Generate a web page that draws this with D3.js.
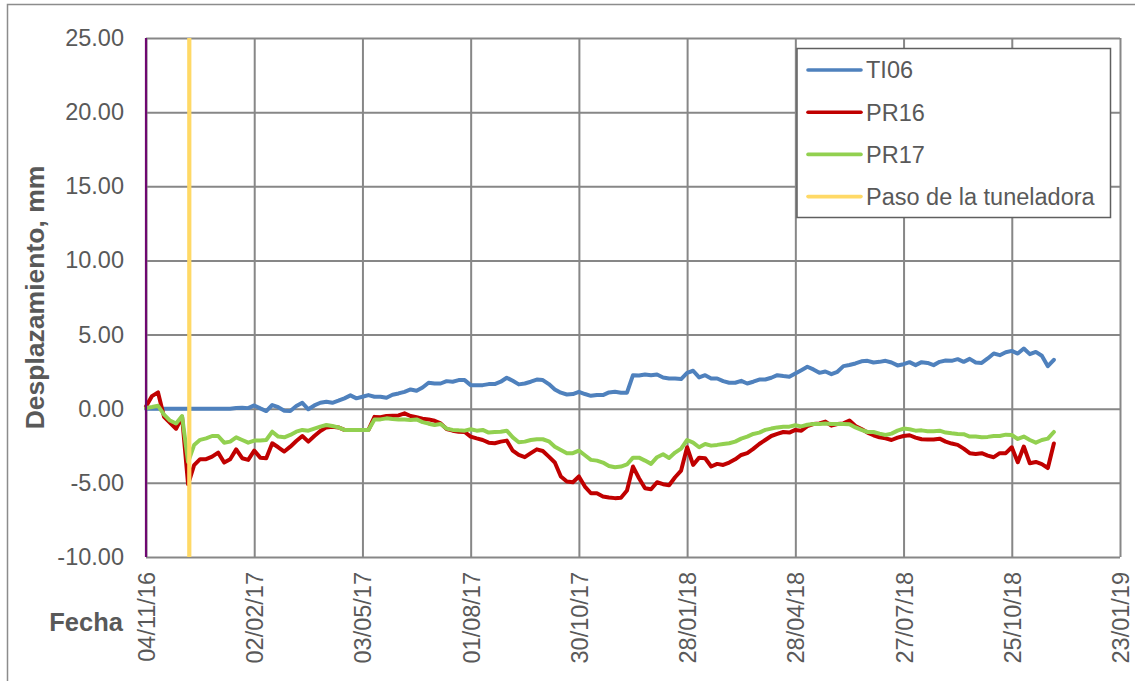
<!DOCTYPE html>
<html>
<head>
<meta charset="utf-8">
<script src="https://cdn.jsdelivr.net/npm/d3@7"></script>
<style>
  body { margin: 0; background: #fff; }
  svg { display: block; }
  text { font-family: "Liberation Sans", Arial, Helvetica, sans-serif; }
</style>
</head>
<body>
<svg id="chart" width="1135" height="681"></svg>
<script>
// Readings are logged every 5 days from the first survey date.
const firstReading = "04/11/16";
const readingStepDays = 5;

// Displacement readings, mm
const ti06 = [
  0,0,0,0,0,0,0,0,0,0,
  0,0,0,0,0,0.05,0.07,0.04,0.22,0.02,
  -0.16,0.25,0.10,-0.13,-0.16,0.18,0.40,-0.04,0.22,0.40,
  0.47,0.40,0.54,0.70,0.90,0.70,0.81,0.92,0.81,0.81,
  0.74,0.94,1.03,1.14,1.30,1.21,1.43,1.75,1.70,1.70,
  1.86,1.82,1.93,1.93,1.59,1.59,1.59,1.66,1.66,1.82,
  2.09,1.88,1.64,1.70,1.82,1.97,1.93,1.66,1.30,1.08,
  0.96,0.99,1.14,0.99,0.87,0.92,0.92,1.10,1.14,1.08,
  1.08,2.26,2.24,2.31,2.26,2.31,2.11,2.04,2.04,2.00,
  2.42,2.56,2.11,2.26,2.04,2.04,1.86,1.75,1.75,1.88,
  1.70,1.82,1.97,1.97,2.09,2.26,2.20,2.15,2.38,2.60,
  2.83,2.65,2.42,2.51,2.33,2.49,2.87,2.95,3.05,3.20,
  3.23,3.12,3.16,3.23,3.12,2.92,3.00,3.14,2.94,3.14,
  3.09,2.94,3.16,3.25,3.23,3.34,3.16,3.36,3.12,3.09,
  3.39,3.72,3.61,3.81,3.90,3.72,4.06,3.68,3.83,3.57,
  2.87,3.30
];
const pr16 = [
  0.15,0.85,1.10,-0.55,-0.95,-1.35,-0.55,-5.10,-3.80,-3.40,
  -3.40,-3.23,-2.96,-3.63,-3.41,-2.74,-3.34,-3.45,-2.83,-3.30,
  -3.34,-2.33,-2.60,-2.89,-2.56,-2.18,-1.84,-2.22,-1.84,-1.50,
  -1.26,-1.21,-1.26,-1.43,-1.43,-1.43,-1.43,-1.43,-0.55,-0.58,
  -0.49,-0.47,-0.45,-0.31,-0.49,-0.58,-0.67,-0.72,-0.81,-0.99,
  -1.37,-1.48,-1.55,-1.57,-1.88,-2.00,-2.11,-2.29,-2.33,-2.22,
  -2.15,-2.83,-3.12,-3.27,-3.00,-2.74,-2.85,-3.23,-3.63,-4.57,
  -4.91,-4.96,-4.57,-5.25,-5.70,-5.70,-5.92,-5.99,-6.03,-6.00,
  -5.52,-3.90,-4.69,-5.36,-5.43,-4.96,-5.09,-5.16,-4.62,-4.17,
  -2.60,-3.79,-3.30,-3.34,-3.90,-3.72,-3.79,-3.63,-3.41,-3.12,
  -3.00,-2.71,-2.38,-2.11,-1.84,-1.70,-1.57,-1.61,-1.43,-1.48,
  -1.17,-1.03,-0.99,-0.87,-1.14,-1.03,-0.99,-0.80,-1.17,-1.37,
  -1.61,-1.79,-1.93,-2.00,-2.11,-1.95,-1.84,-1.79,-1.95,-2.06,
  -2.08,-2.08,-2.02,-2.22,-2.35,-2.44,-2.69,-3.00,-3.05,-3.00,
  -3.16,-3.27,-3.00,-3.00,-2.60,-3.61,-2.55,-3.68,-3.59,-3.74,
  -4.00,-2.35
];
const pr17 = [
  0.05,0.12,0.20,-0.40,-0.80,-1.00,-0.50,-3.60,-2.45,-2.10,
  -2.00,-1.84,-1.84,-2.29,-2.22,-1.93,-2.11,-2.29,-2.15,-2.15,
  -2.11,-1.55,-1.88,-1.93,-1.77,-1.55,-1.43,-1.48,-1.34,-1.21,
  -1.10,-1.17,-1.26,-1.43,-1.43,-1.43,-1.43,-1.43,-0.72,-0.72,
  -0.65,-0.70,-0.72,-0.72,-0.76,-0.72,-0.90,-1.01,-1.10,-1.03,
  -1.34,-1.43,-1.46,-1.48,-1.39,-1.48,-1.43,-1.61,-1.57,-1.55,
  -1.48,-1.93,-2.26,-2.22,-2.11,-2.06,-2.06,-2.20,-2.56,-2.78,
  -3.00,-3.00,-2.83,-3.14,-3.45,-3.50,-3.63,-3.86,-3.95,-3.90,
  -3.76,-3.30,-3.30,-3.50,-3.72,-3.27,-3.07,-3.32,-2.96,-2.69,
  -2.11,-2.29,-2.60,-2.38,-2.49,-2.44,-2.38,-2.33,-2.22,-2.02,
  -1.88,-1.70,-1.61,-1.43,-1.34,-1.26,-1.21,-1.21,-1.12,-1.19,
  -1.08,-1.03,-1.03,-0.99,-1.03,-1.03,-1.03,-1.04,-1.26,-1.43,
  -1.57,-1.57,-1.68,-1.77,-1.68,-1.48,-1.34,-1.39,-1.48,-1.46,
  -1.52,-1.52,-1.48,-1.61,-1.66,-1.70,-1.72,-1.88,-1.88,-1.93,
  -1.90,-1.84,-1.84,-1.75,-1.77,-2.04,-1.88,-2.11,-2.29,-2.11,
  -2.02,-1.57
];

// Date the tunnel boring machine passed the section
const tbmPassageDate = "10/12/16";

const xTickLabels = ["04/11/16","02/02/17","03/05/17","01/08/17","30/10/17",
                     "28/01/18","28/04/18","27/07/18","25/10/18","23/01/19"];
const yTickValues = [-10, -5, 0, 5, 10, 15, 20, 25];
const seriesNames = ["TI06", "PR16", "PR17", "Paso de la tuneladora"];

// ---- styling ----
const colors = { TI06: "#4F81BD", PR16: "#C00000", PR17: "#92D050", tbm: "#FFD966" };
const gridColor = "#878787";
const textColor = "#595959";

const svg = d3.select("#chart");
const plot = { left: 146, right: 1120, top: 38, bottom: 557 };

const parseDate = d3.utcParse("%d/%m/%y");
const x = d3.scaleUtc()
  .domain([parseDate(xTickLabels[0]), parseDate(xTickLabels[xTickLabels.length - 1])])
  .range([plot.left, plot.right]);
const y = d3.scaleLinear().domain([-10, 25]).range([plot.bottom, plot.top]);

const start = parseDate(firstReading);
const readingDates = ti06.map((_, i) => d3.utcDay.offset(start, i * readingStepDays));

// two decimals, plain hyphen for negatives
const fmt2 = v => d3.format(".2f")(v).replace("\u2212", "-");

// outer chart frame
svg.append("path")
  .attr("d", "M7.5,690 V4.5 H1140")
  .attr("fill", "none").attr("stroke", "#8c8c8c").attr("stroke-width", 1.5);

// horizontal grid + y labels
const yAxis = d3.axisLeft(y)
  .tickValues(yTickValues)
  .tickFormat(fmt2)
  .tickSize(-(plot.right - plot.left))
  .tickPadding(22);
const gy = svg.append("g").attr("transform", `translate(${plot.left},0)`).call(yAxis);
gy.select(".domain").remove();
gy.selectAll("line").attr("stroke", gridColor).attr("stroke-width", 2);
gy.selectAll("text").attr("fill", textColor).style("font-size", "23.5px");

// vertical grid + rotated date labels
const xAxis = d3.axisBottom(x)
  .tickValues(xTickLabels.map(parseDate))
  .tickFormat(d3.utcFormat("%d/%m/%y"))
  .tickSize(-(plot.bottom - plot.top))
  .tickPadding(0);
const gx = svg.append("g").attr("transform", `translate(0,${plot.bottom})`).call(xAxis);
gx.select(".domain").remove();
gx.selectAll("line").attr("stroke", gridColor).attr("stroke-width", 2);
gx.selectAll("text")
  .attr("fill", textColor)
  .style("font-size", "23.5px")
  .attr("transform", "rotate(-90)")
  .attr("text-anchor", "end")
  .attr("x", -15)
  .attr("y", 0)
  .attr("dy", "0.36em");

// series lines
const line = d3.line()
  .x((d, i) => x(readingDates[i]))
  .y(d => y(d));

[["TI06", ti06], ["PR16", pr16], ["PR17", pr17]].forEach(([name, values]) => {
  svg.append("path")
    .datum(values)
    .attr("d", line)
    .attr("fill", "none")
    .attr("stroke", colors[name])
    .attr("stroke-width", 4)
    .attr("stroke-linejoin", "round")
    .attr("stroke-linecap", "round");
});

// TBM passage marker
svg.append("line")
  .attr("x1", x(parseDate(tbmPassageDate))).attr("x2", x(parseDate(tbmPassageDate)))
  .attr("y1", y(25)).attr("y2", y(-10))
  .attr("stroke", colors.tbm).attr("stroke-width", 4.2);

// left axis line
svg.append("line")
  .attr("x1", plot.left).attr("x2", plot.left)
  .attr("y1", y(25)).attr("y2", y(-10))
  .attr("stroke", "#6E0870").attr("stroke-width", 2.2);

// axis titles
svg.append("text")
  .attr("transform", `translate(44,${(plot.top + plot.bottom) / 2}) rotate(-90)`)
  .attr("text-anchor", "middle")
  .attr("fill", textColor)
  .style("font-size", "26.5px").style("font-weight", "bold")
  .text("Desplazamiento, mm");

svg.append("text")
  .attr("x", 123).attr("y", 631)
  .attr("text-anchor", "end")
  .attr("fill", textColor)
  .style("font-size", "25.5px").style("font-weight", "bold")
  .text("Fecha");

// legend
const legend = svg.append("g");
legend.append("rect")
  .attr("x", 797).attr("y", 48.5).attr("width", 313.5).attr("height", 169)
  .attr("fill", "#fff").attr("stroke", "#5f5f5f").attr("stroke-width", 1.5);
const legendColors = [colors.TI06, colors.PR16, colors.PR17, colors.tbm];
seriesNames.forEach((name, i) => {
  const cy = 70 + i * 42.2;
  legend.append("line")
    .attr("x1", 808).attr("x2", 861).attr("y1", cy).attr("y2", cy)
    .attr("stroke", legendColors[i]).attr("stroke-width", 3.6)
    .attr("stroke-linecap", "round");
  legend.append("text")
    .attr("x", 866).attr("y", cy).attr("dy", "0.36em")
    .attr("fill", textColor)
    .style("font-size", "23.5px")
    .text(name);
});
</script>
</body>
</html>
